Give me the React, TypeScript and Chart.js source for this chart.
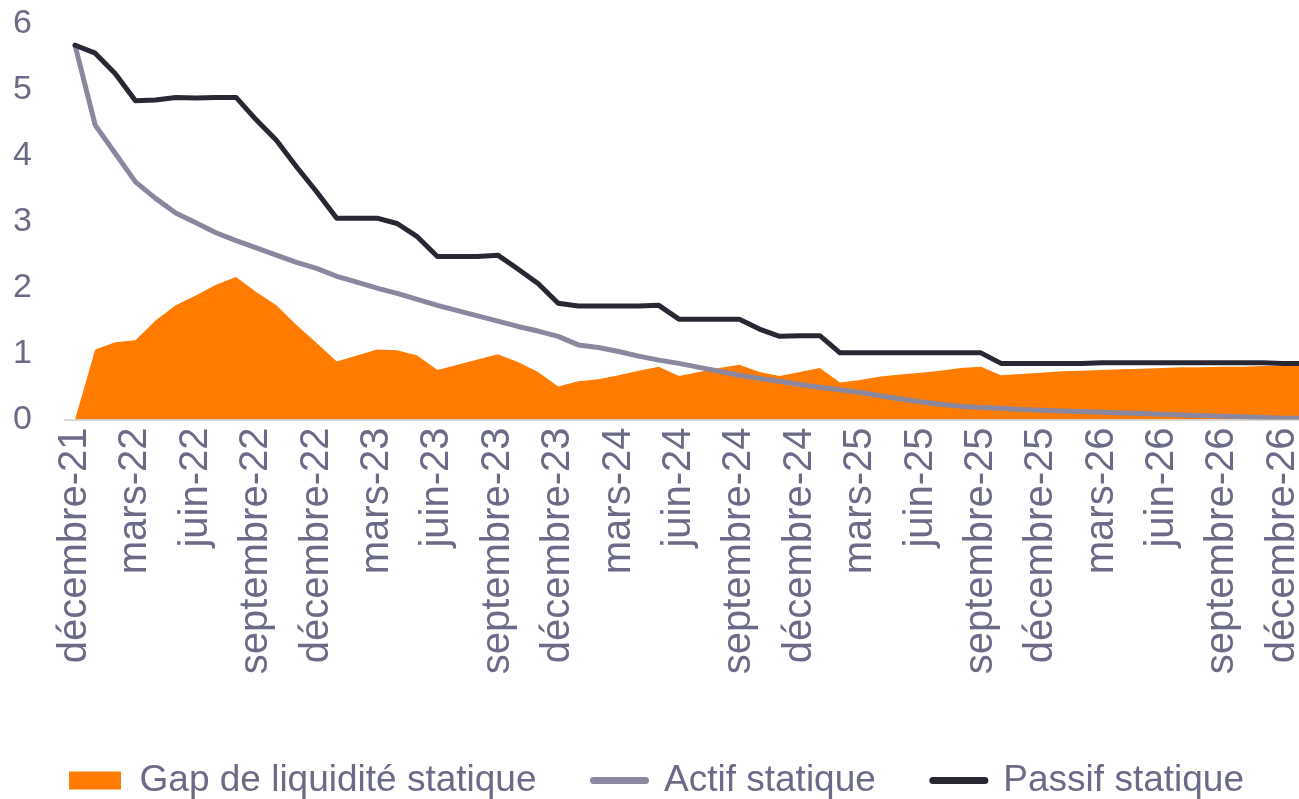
import React, { useEffect, useRef } from "react";
import { Chart, registerables } from "chart.js";

Chart.register(...registerables);

// Monthly categories (décembre-21 … janvier-27)
const categories: string[] = [
  "décembre-21",
  "janvier-22", "février-22", "mars-22", "avril-22", "mai-22", "juin-22",
  "juillet-22", "août-22", "septembre-22", "octobre-22", "novembre-22", "décembre-22",
  "janvier-23", "février-23", "mars-23", "avril-23", "mai-23", "juin-23",
  "juillet-23", "août-23", "septembre-23", "octobre-23", "novembre-23", "décembre-23",
  "janvier-24", "février-24", "mars-24", "avril-24", "mai-24", "juin-24",
  "juillet-24", "août-24", "septembre-24", "octobre-24", "novembre-24", "décembre-24",
  "janvier-25", "février-25", "mars-25", "avril-25", "mai-25", "juin-25",
  "juillet-25", "août-25", "septembre-25", "octobre-25", "novembre-25", "décembre-25",
  "janvier-26", "février-26", "mars-26", "avril-26", "mai-26", "juin-26",
  "juillet-26", "août-26", "septembre-26", "octobre-26", "novembre-26", "décembre-26",
  "janvier-27",
];

// Tick labels shown on the axis (every quarter)
const tickLabels: string[] = [
  "décembre-21", "mars-22", "juin-22", "septembre-22", "décembre-22",
  "mars-23", "juin-23", "septembre-23", "décembre-23",
  "mars-24", "juin-24", "septembre-24", "décembre-24",
  "mars-25", "juin-25", "septembre-25", "décembre-25",
  "mars-26", "juin-26", "septembre-26", "décembre-26",
];

const seriesLabels: string[] = ["Gap de liquidité statique", "Actif statique", "Passif statique"];

const gapValues: number[] = [
  0, 1.06, 1.17, 1.2, 1.5, 1.73, 1.88, 2.04, 2.16, 1.93, 1.73, 1.43,
  1.16, 0.88, 0.97, 1.06, 1.05, 0.97, 0.75, 0.83, 0.91, 0.99, 0.87, 0.72,
  0.5, 0.58, 0.61, 0.67, 0.74, 0.8, 0.66, 0.72, 0.78, 0.83, 0.72, 0.66,
  0.72, 0.78, 0.56, 0.6, 0.65, 0.68, 0.71, 0.74, 0.78, 0.8, 0.67, 0.69,
  0.71, 0.73, 0.74, 0.75, 0.76, 0.77, 0.78, 0.79, 0.79, 0.8, 0.8, 0.81,
  0.81, 0.81,
];

const actifValues: number[] = [
  5.67, 4.46, 4.03, 3.6, 3.35, 3.13, 2.98, 2.83, 2.71, 2.6, 2.49, 2.38,
  2.29, 2.17, 2.08, 1.99, 1.91, 1.82, 1.73, 1.65, 1.57, 1.49, 1.41, 1.34,
  1.26, 1.13, 1.09, 1.03, 0.96, 0.9, 0.85, 0.79, 0.73, 0.67, 0.62, 0.58,
  0.53, 0.49, 0.45, 0.41, 0.36, 0.31, 0.27, 0.23, 0.2, 0.18, 0.17, 0.15,
  0.14, 0.13, 0.12, 0.11, 0.1, 0.09, 0.08, 0.07, 0.06, 0.05, 0.04, 0.03,
  0.02, 0.02,
];

const passifValues: number[] = [
  5.67, 5.55, 5.24, 4.83, 4.84, 4.88, 4.87, 4.88, 4.88, 4.54, 4.23, 3.83,
  3.45, 3.05, 3.05, 3.05, 2.97, 2.77, 2.47, 2.47, 2.47, 2.49, 2.28, 2.06,
  1.76, 1.72, 1.72, 1.72, 1.72, 1.73, 1.52, 1.52, 1.52, 1.52, 1.37, 1.26,
  1.27, 1.27, 1.01, 1.01, 1.01, 1.01, 1.01, 1.01, 1.01, 1.01, 0.85, 0.85,
  0.85, 0.85, 0.85, 0.86, 0.86, 0.86, 0.86, 0.86, 0.86, 0.86, 0.86, 0.86,
  0.85, 0.85,
];

const FONT = "'Liberation Sans', Arial, sans-serif";
const TEXT = "#6B6B88";
const ORANGE = "#FF7C00";
const GREY = "#8A879F";
const DARK = "#282834";

export default function App() {
  const ref = useRef<HTMLCanvasElement>(null);

  useEffect(() => {
    const canvas = ref.current;
    if (!canvas) return;
    const chart = new Chart(canvas, {
      type: "line",
      data: {
        labels: categories,
        datasets: [
          {
            label: seriesLabels[0],
            data: gapValues,
            fill: "origin",
            backgroundColor: ORANGE,
            borderColor: ORANGE,
            borderWidth: 0,
            pointRadius: 0,
            tension: 0,
            order: 3,
          },
          {
            label: seriesLabels[1],
            data: actifValues,
            fill: false,
            backgroundColor: GREY,
            borderColor: GREY,
            borderWidth: 5,
            borderJoinStyle: "round",
            borderCapStyle: "round",
            pointRadius: 0,
            tension: 0,
            order: 2,
          },
          {
            label: seriesLabels[2],
            data: passifValues,
            fill: false,
            backgroundColor: DARK,
            borderColor: DARK,
            borderWidth: 5,
            borderJoinStyle: "round",
            borderCapStyle: "round",
            pointRadius: 0,
            tension: 0,
            order: 1,
          },
        ],
      },
      options: {
        responsive: false,
        animation: false,
        devicePixelRatio: 1,
        layout: { padding: { top: 23.5, left: 0, right: 0, bottom: 0 } },
        plugins: {
          tooltip: { enabled: false },
          legend: {
            position: "bottom",
            align: "center",
            labels: {
              usePointStyle: true,
              pointStyleWidth: 52,
              boxHeight: 18,
              padding: 57,
              color: TEXT,
              font: { family: FONT, size: 37 },
              generateLabels: (c: any) =>
                c.data.datasets.map((ds: any, i: number) => ({
                  text: ds.label,
                  fillStyle: ds.backgroundColor,
                  strokeStyle: ds.borderColor,
                  lineWidth: i === 0 ? 0 : 7,
                  lineCap: "round",
                  pointStyle: i === 0 ? "rect" : "line",
                  hidden: false,
                  datasetIndex: i,
                  fontColor: TEXT,
                })),
            },
          },
        },
        scales: {
          x: {
            type: "category",
            offset: true,
            grid: { display: false, drawTicks: false },
            border: { display: true, color: "#D9D9D9", width: 2 },
            ticks: {
              autoSkip: false,
              minRotation: 90,
              maxRotation: 90,
              padding: 8,
              color: TEXT,
              font: { family: FONT, size: 40 },
              callback: (_v: any, i: number) => (i % 3 === 0 && i / 3 < tickLabels.length ? tickLabels[i / 3] : ""),
            },
            afterFit: (s: any) => {
              s.height = 285.5;
              s.paddingLeft = 0;
              s.paddingRight = 0;
            },
          },
          y: {
            min: 0,
            max: 6,
            grid: { display: false, drawTicks: false },
            border: { display: false },
            ticks: {
              stepSize: 1,
              padding: 33,
              color: TEXT,
              font: { family: FONT, size: 34 },
            },
            afterFit: (s: any) => {
              s.width = 65;
              s.paddingTop = 0;
              s.paddingBottom = 0;
            },
          },
        },
      },
    } as any);
    return () => chart.destroy();
  }, []);

  return (
    <div
      style={{
        position: "absolute",
        left: 0,
        top: 0,
        width: 1299,
        height: 799,
        overflow: "hidden",
        background: "#ffffff",
      }}
    >
      <canvas ref={ref} width={1313} height={809} style={{ display: "block" }} />
    </div>
  );
}
